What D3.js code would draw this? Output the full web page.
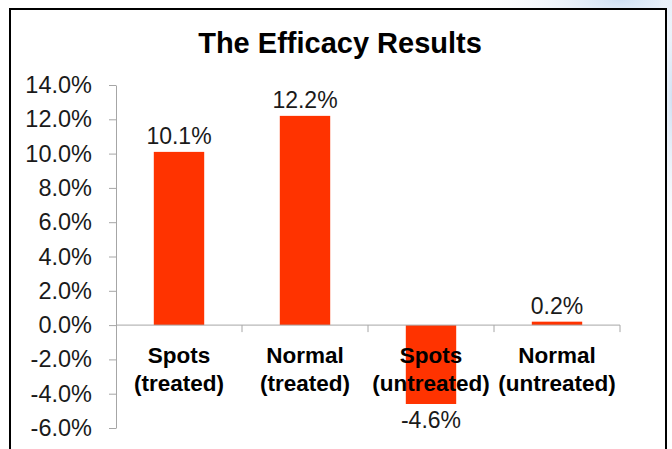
<!DOCTYPE html>
<html>
<head>
<meta charset="utf-8">
<script src="https://cdn.jsdelivr.net/npm/d3@7"></script>
<style>
  body { margin: 0; background: #fff; }
  svg { display: block; font-family: "Liberation Sans", Arial, sans-serif; }
</style>
</head>
<body>
<script>
const categories = ["Spots (treated)", "Normal (treated)", "Spots (untreated)", "Normal (untreated)"];
const labelTop = ["Spots", "Normal", "Spots", "Normal"];
const labelBottom = ["(treated)", "(treated)", "(untreated)", "(untreated)"];
const values = [10.1, 12.2, -4.6, 0.2];
const yTicks = [-6, -4, -2, 0, 2, 4, 6, 8, 10, 12, 14];

const w = 672;
const h = 449;
const barColor = "#ff3300";

const svg = d3.select("body")
  .append("svg")
  .attr("width", w)
  .attr("height", h);

// slide background glow, top right
const defs = svg.append("defs");
const glow = defs.append("radialGradient")
  .attr("id", "glow")
  .attr("cx", "0.5").attr("cy", "0.5").attr("r", "0.5");
glow.append("stop").attr("offset", "0%").attr("stop-color", "#cfe0f3");
glow.append("stop").attr("offset", "100%").attr("stop-color", "#ffffff").attr("stop-opacity", 0);

svg.append("ellipse")
  .attr("cx", 620).attr("cy", 0)
  .attr("rx", 160).attr("ry", 50)
  .attr("fill", "url(#glow)");

svg.append("ellipse")
  .attr("cx", 672).attr("cy", 100)
  .attr("rx", 16).attr("ry", 180)
  .attr("fill", "url(#glow)");

// chart frame
svg.append("rect")
  .attr("x", 10)
  .attr("y", 9)
  .attr("width", 656)
  .attr("height", 460)
  .attr("fill", "#fff")
  .attr("stroke", "#000")
  .attr("stroke-width", 2);

svg.append("text")
  .attr("x", 340)
  .attr("y", 53)
  .attr("text-anchor", "middle")
  .attr("font-size", 29)
  .attr("font-weight", "bold")
  .attr("fill", "#000")
  .text("The Efficacy Results");

const y = d3.scaleLinear()
  .domain([-6, 14])
  .range([428, 85]);

const x = d3.scaleBand()
  .domain(categories)
  .range([116, 620])
  .paddingInner(0.6)
  .paddingOuter(0.3);

// y axis
const yAxis = svg.append("g")
  .attr("transform", "translate(116,0)")
  .call(d3.axisLeft(y)
    .tickValues(yTicks)
    .tickSize(7)
    .tickSizeOuter(0)
    .tickPadding(17)
    .tickFormat(d => d.toFixed(1) + "%"));

yAxis.select(".domain").attr("stroke", "#a6a6a6");
yAxis.selectAll(".tick line").attr("stroke", "#a6a6a6");
yAxis.selectAll(".tick text")
  .attr("font-size", 23.5)
  .attr("font-family", "Liberation Sans, Arial, sans-serif")
  .attr("fill", "#1a1a1a");

// bars
svg.selectAll(".bar")
  .data(values)
  .enter()
  .append("rect")
  .attr("class", "bar")
  .attr("x", (d, i) => x(categories[i]))
  .attr("width", x.bandwidth())
  .attr("y", d => y(Math.max(d, 0)))
  .attr("height", d => Math.abs(y(d) - y(0)))
  .attr("fill", barColor);

// x axis line and ticks at band boundaries
const half = (x.step() - x.bandwidth()) / 2;
const bounds = categories.map(c => x(c) - half);
bounds.push(x(categories[categories.length - 1]) + x.bandwidth() + half);

svg.append("line")
  .attr("x1", bounds[0])
  .attr("x2", bounds[bounds.length - 1])
  .attr("y1", y(0))
  .attr("y2", y(0))
  .attr("stroke", "#a6a6a6");

svg.selectAll(".xtick")
  .data(bounds.slice(1))
  .enter()
  .append("line")
  .attr("class", "xtick")
  .attr("x1", d => d)
  .attr("x2", d => d)
  .attr("y1", y(0))
  .attr("y2", y(0) + 7)
  .attr("stroke", "#a6a6a6");

// value labels
svg.selectAll(".val")
  .data(values)
  .enter()
  .append("text")
  .attr("class", "val")
  .attr("x", (d, i) => x(categories[i]) + x.bandwidth() / 2)
  .attr("y", d => d >= 0 ? y(d) - 8 : y(d) + 24)
  .attr("text-anchor", "middle")
  .attr("font-size", 23)
  .attr("fill", "#1a1a1a")
  .text(d => d.toFixed(1) + "%");

// category labels
const cat = svg.selectAll(".cat")
  .data(categories)
  .enter()
  .append("text")
  .attr("class", "cat")
  .attr("text-anchor", "middle")
  .attr("font-size", 22.5)
  .attr("font-weight", "bold")
  .attr("fill", "#000");

cat.append("tspan")
  .attr("x", d => x(d) + x.bandwidth() / 2)
  .attr("y", 363)
  .text((d, i) => labelTop[i]);

cat.append("tspan")
  .attr("x", d => x(d) + x.bandwidth() / 2)
  .attr("y", 391)
  .text((d, i) => labelBottom[i]);
</script>
</body>
</html>
